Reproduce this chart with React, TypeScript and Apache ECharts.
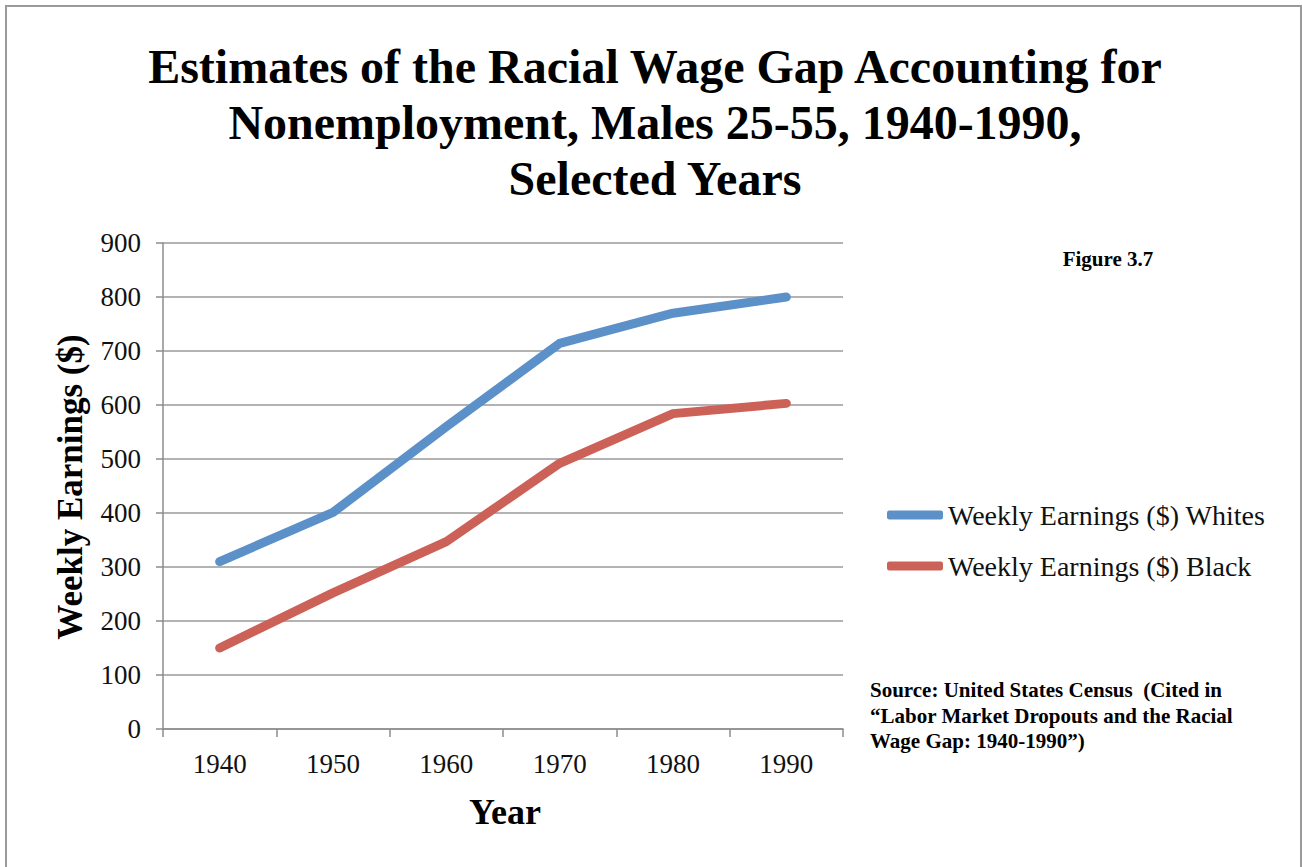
import React, { useEffect, useRef } from "react";
import * as echarts from "echarts";

const years = ["1940", "1950", "1960", "1970", "1980", "1990"];
const whites = [310, 401, 560, 714, 770, 800];
const black = [150, 252, 347, 492, 584, 603];
const titleLines = [
  "Estimates of the Racial Wage Gap Accounting for",
  "Nonemployment, Males 25-55, 1940-1990,",
  "Selected Years",
];
const sourceLines = [
  "Source: United States Census  (Cited in",
  "\u201CLabor Market Dropouts and the Racial",
  "Wage Gap: 1940-1990\u201D)",
];

const SERIF = "'Liberation Serif', 'Times New Roman', serif";

export default function App() {
  const ref = useRef<HTMLDivElement>(null);
  useEffect(() => {
    const chart = echarts.init(ref.current!, undefined, { renderer: "svg" });
    chart.setOption({
      animation: false,
      backgroundColor: "#ffffff",
      textStyle: { fontFamily: SERIF },
      grid: { left: 163, top: 243, right: 459, bottom: 138, containLabel: false },
      xAxis: {
        type: "category",
        data: years,
        boundaryGap: true,
        axisLine: { show: true, lineStyle: { color: "#8c8c8c", width: 1.5 } },
        axisTick: { show: true, length: 8, lineStyle: { color: "#8c8c8c", width: 1.5 } },
        axisLabel: { color: "#111", fontSize: 27, fontFamily: SERIF, margin: 21 },
        splitLine: { show: false },
      },
      yAxis: {
        type: "value",
        min: 0,
        max: 900,
        interval: 100,
        axisLine: { show: true, lineStyle: { color: "#8c8c8c", width: 1.5 } },
        axisTick: { show: true, length: 7, lineStyle: { color: "#8c8c8c", width: 1.5 } },
        axisLabel: { color: "#111", fontSize: 27, fontFamily: SERIF, margin: 22 },
        splitLine: { show: true, lineStyle: { color: "#9a9a9a", width: 1.5 } },
      },
      legend: {
        orient: "vertical",
        left: 887,
        top: 501,
        padding: 0,
        itemWidth: 56,
        itemHeight: 9,
        itemGap: 23,
        icon: "roundRect",
        textStyle: { fontSize: 28, fontFamily: SERIF, color: "#111" },
        data: ["Weekly Earnings ($) Whites", "Weekly Earnings ($) Black"],
      },
      series: [
        {
          name: "Weekly Earnings ($) Whites",
          type: "line",
          data: whites,
          showSymbol: false,
          symbol: "none",
          color: "#5b91c8",
          lineStyle: { width: 9, color: "#5b91c8", cap: "round", join: "round" },
        },
        {
          name: "Weekly Earnings ($) Black",
          type: "line",
          data: black,
          showSymbol: false,
          symbol: "none",
          color: "#cc6158",
          lineStyle: { width: 9, color: "#cc6158", cap: "round", join: "round" },
        },
      ],
      graphic: [
        {
          type: "rect",
          shape: { x: 6, y: 6, width: 1295, height: 880 },
          style: { fill: "none", stroke: "#9a9a9a", lineWidth: 2 },
          silent: true,
        },
        ...titleLines.map((t, i) => ({
          type: "text",
          x: 655,
          y: 66 + i * 56,
          style: {
            text: t,
            fontFamily: SERIF,
            fontWeight: "bold",
            fontSize: 48,
            fill: "#000",
            align: "center",
            verticalAlign: "middle",
          },
        })),
        {
          type: "text",
          x: 70,
          y: 487,
          rotation: Math.PI / 2,
          style: {
            text: "Weekly Earnings ($)",
            fontFamily: SERIF,
            fontWeight: "bold",
            fontSize: 35,
            fill: "#000",
            align: "center",
            verticalAlign: "middle",
          },
        },
        {
          type: "text",
          x: 505,
          y: 812,
          style: {
            text: "Year",
            fontFamily: SERIF,
            fontWeight: "bold",
            fontSize: 36,
            fill: "#000",
            align: "center",
            verticalAlign: "middle",
          },
        },
        {
          type: "text",
          x: 1108,
          y: 259,
          style: {
            text: "Figure 3.7",
            fontFamily: SERIF,
            fontWeight: "bold",
            fontSize: 21,
            fill: "#000",
            align: "center",
            verticalAlign: "middle",
          },
        },
        ...sourceLines.map((t, i) => ({
          type: "text",
          x: 870,
          y: 690 + i * 25.5,
          style: {
            text: t,
            fontFamily: SERIF,
            fontWeight: "bold",
            fontSize: 21,
            fill: "#000",
            align: "left",
            verticalAlign: "middle",
          },
        })),
      ],
    });
    return () => chart.dispose();
  }, []);
  return (
    <div
      ref={ref}
      style={{ position: "absolute", left: 0, top: 0, width: 1302, height: 867 }}
    />
  );
}
